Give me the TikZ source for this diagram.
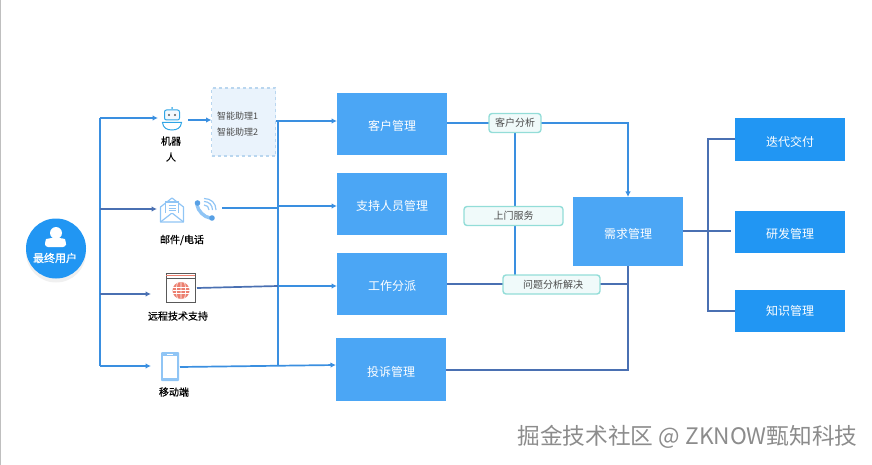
\documentclass[tikz,border=0pt]{standalone}
\usepackage{fontspec}
\setmainfont{Noto Sans CJK SC}
\usepackage{xcolor}
\usetikzlibrary{arrows.meta,calc,shadows}
\definecolor{BoxBlue}{HTML}{4BA6F5}
\definecolor{BoxDeep}{HTML}{2196F3}
\definecolor{Wire}{HTML}{3A8FE0}
\definecolor{WireDark}{HTML}{4A70B2}
\definecolor{Teal}{HTML}{93DDD8}
\definecolor{TealFill}{HTML}{F0FAFA}
\definecolor{IconBlue}{HTML}{90C5F5}
\definecolor{Helper}{HTML}{B9D6EF}
\definecolor{HelperFill}{HTML}{EAF3FC}
\definecolor{Globe}{HTML}{EC7F6F}
\begin{document}
\begin{tikzpicture}[x=1pt,y=-1pt,
  every node/.style={font=\fontsize{10}{12}\selectfont,inner sep=0pt,outer sep=0pt},
  block/.style={fill=BoxBlue,text=white,minimum width=110pt,text height=13.2pt,text depth=0pt,font=\fontsize{12}{14}\selectfont},
  deliver/.style={fill=BoxDeep,text=white,minimum width=110pt,text height=13.6pt,text depth=0pt,font=\fontsize{12}{14}\selectfont},
  tag/.style={draw=Teal,fill=TealFill,line width=1.4pt,rounded corners=3pt,text=black!70,font=\fontsize{10}{12}\selectfont,minimum height=19pt},
  icon/.style={minimum width=#1,minimum height=24pt},
  caption/.style={font=\fontsize{10}{16}\selectfont\addfontfeature{FakeBold=0.5},text=black},
  wire/.style={draw=Wire,line width=1.7pt},
  wiredark/.style={draw=WireDark,line width=1.7pt},
  tip/.style={-{Latex[length=5.5pt,width=5.5pt]}}]
\useasboundingbox (0,0) rectangle (872,465);
\draw[black!25,line width=1.5pt] (0.5,0) -- (0.5,465);

\node[circle,fill=BoxDeep,minimum size=60pt,drop shadow={opacity=0.12,shadow xshift=0pt,shadow yshift=-4pt}] (user) at (56,248.5) {};
\node[text=white,font=\fontsize{11}{13}\selectfont\addfontfeature{FakeBold=0.8}] (userText) at (55,258) {最终用户};

\node[icon=32pt] (robot) at (172,120) {};
\node[icon=30pt] (mail) at (172,210) {};
\node[icon=32pt] (phone) at (206,208) {};
\node[icon=32pt] (remote) at (181,288) {};
\node[icon=20pt] (mobile) at (170,367) {};

\node[caption,align=center] (robotText) at (171,149) {机器\\人};
\node[caption] (mailText) at (182,240) {邮件/电话};
\node[caption] (remoteText) at (178,316) {远程技术支持};
\node[caption] (mobileText) at (174,392) {移动端};

\node[draw=Helper,fill=HelperFill,dashed,line width=1.3pt,minimum width=64pt,minimum height=68pt] (helper) at (243.5,122) {};
\node[text=black!70,font=\fontsize{9}{11}\selectfont] (helperA) at (237.5,116) {智能助理1};
\node[text=black!70,font=\fontsize{9}{11}\selectfont] (helperB) at (237.5,132) {智能助理2};

\node[block,minimum height=62pt] (customer) at (392,124) {客户管理};
\node[block,minimum height=62pt] (support) at (392,204) {支持人员管理};
\node[block,minimum height=62pt] (dispatch) at (392,284) {工作分派};
\node[block,minimum height=63pt] (complaint) at (391,369.5) {投诉管理};
\node[block,minimum height=69pt] (demand) at (628,231.5) {需求管理};

\node[deliver,minimum height=43pt] (iterate) at (790,139.5) {迭代交付};
\node[deliver,minimum height=42pt] (develop) at (790,232) {研发管理};
\node[deliver,minimum height=42pt,text height=9pt] (knowledge) at (790,311) {知识管理};

\coordinate (trunkTop) at (100,118);
\coordinate (trunkMail) at (100,209);
\coordinate (trunkRemote) at (100,294);
\coordinate (trunkBottom) at (100,366);
\coordinate (robotIn) at (158,118);
\coordinate (mailIn) at (157,209);
\coordinate (remoteIn) at (151,294);
\coordinate (mobileIn) at (151,366);
\coordinate (busTop) at (278,121);
\coordinate (busBottom) at (278,365);
\coordinate (busSupport) at (278,206);
\coordinate (busDispatch) at (278,286);
\coordinate (fork) at (708,231);
\coordinate (forkTop) at (708,139);
\coordinate (forkBottom) at (708,311);
\coordinate (drop) at (628,123);
\coordinate (joinLow) at (628,370);

\draw[wire] (trunkTop) -- (trunkBottom);
\foreach \u/\v in {trunkTop/robotIn,trunkBottom/mobileIn} \draw[wire,tip] (\u) -- (\v);
\foreach \u/\v in {trunkMail/mailIn,trunkRemote/remoteIn} \draw[wiredark,tip] (\u) -- (\v);

\draw[wire,tip] (robot.east) -- (helper.west |- robot.east);
\draw[wire] (busTop) -- (busBottom);
\draw[wire,tip] (helper.east |- busTop) -- (customer.west |- busTop);
\draw[wire] (phone.east) -- (busBottom |- phone.east);
\draw[wire,tip] (busSupport) -- (support.west |- busSupport);
\draw[wiredark] (remote.east) -- (busDispatch);
\draw[wire,tip] (busDispatch) -- (dispatch.west |- busDispatch);
\draw[wire,tip] (mobile.east) -- ([yshift=4.5pt]complaint.west);

% the labels sit on top of these lines
\draw[wire,tip] (customer.east |- drop) -- (drop) -- (demand.north);
\draw[wire] (515,123) -- (515,280);
\draw[wiredark] (dispatch.east) -- (628,284);
\draw[wiredark] (demand.south) -- (joinLow) -- (complaint.east |- joinLow);
\draw[wiredark] (demand.east |- fork) -- (fork);
\draw[wiredark] (iterate.west |- forkTop) -- (forkTop) -- (forkBottom) -- (knowledge.west);
\draw[wiredark] (fork) -- ([xshift=-4pt]develop.west |- fork);

\node[tag,minimum width=52pt] (analysis) at (515,123) {客户分析};
\node[tag,minimum width=99pt] (visit) at (513.5,216) {上门服务};
\node[tag,minimum width=97pt] (solve) at (551.5,284.5) {\hspace*{3pt}问题分析解决};

% icons
\fill[white] (user) ++(0,-15.5) circle (6);
\fill[white,rounded corners=3pt] (45,247) -- (45,242) .. controls (46,239) and (51,238) .. (56,238) .. controls (61,238) and (65,239) .. (66,242) -- (66,247) -- cycle;

\begin{scope}[shift={(robot)}]
  \draw[Wire!80!cyan,line width=1pt,fill=HelperFill!60,rounded corners=2pt] (-7.5,-10) rectangle (7.5,0);
  \fill[Wire!80!cyan] (0,-12) circle (1);
  \fill[black!65] (-3,-5) circle (1.2) (3,-5) circle (1.2);
  \draw[Wire!80!cyan,line width=1pt] (-9.5,2.5) -- (9.5,2.5) .. controls (9,8) and (5,10) .. (0,10) .. controls (-5,10) and (-9,8) .. (-9.5,2.5) -- cycle;
\end{scope}

\begin{scope}[shift={(mail)}]
  \draw[IconBlue,line width=1.2pt,line join=round] (-11.5,-3) -- (0,-12) -- (11.5,-3) -- (11.5,12) -- (-11.5,12) -- cycle;
  \draw[IconBlue,line width=1.2pt] (-11.5,12) -- (0,3) -- (11.5,12);
  \draw[IconBlue,line width=1.2pt,fill=white] (-6.5,3) -- (-6.5,-8) -- (6.5,-8) -- (6.5,3);
  \draw[IconBlue,line width=1pt] (-3.5,-4.5) -- (3.5,-4.5) (-3.5,-2) -- (3.5,-2) (-3.5,0.5) -- (3.5,0.5);
\end{scope}

\begin{scope}[shift={(phone)}]
  \draw[IconBlue,line width=3.4pt,line cap=round] (-9,-3) .. controls (-8,3) and (-2,9) .. (4,10);
  \fill[Wire!85] (-8.5,-5) circle (2.8) (6,10) circle (2.8);
  \draw[IconBlue,line width=1.2pt] (-2,-3) .. controls (1,-3) and (3,-1) .. (3,2);
  \draw[IconBlue,line width=1.2pt] (-2,-6.5) .. controls (3,-6.5) and (6.5,-3) .. (6.5,2);
  \draw[IconBlue,line width=1.2pt] (-2,-9.5) .. controls (5,-9.5) and (10,-5) .. (10,2);
\end{scope}

\begin{scope}[shift={(remote)}]
  \draw[black!65,line width=0.9pt,fill=white] (-15,-15) rectangle (14,14);
  \draw[black!65,line width=0.8pt] (-15,-10) -- (14,-10);
  \draw[Globe,line width=0.5pt] (-15,-12.5) -- (14,-12.5);
  \fill[Globe] (0,2.5) circle (8.5);
  \draw[white,line width=0.6pt] (-8,-0.5) -- (8,-0.5) (-8.5,2.5) -- (8.5,2.5) (-8,5.5) -- (8,5.5);
  \draw[white,line width=0.6pt] (0,-6) -- (0,11) (-3.5,-5.5) .. controls (-5,-1) and (-5,6) .. (-3.5,10.5) (3.5,-5.5) .. controls (5,-1) and (5,6) .. (3.5,10.5);
\end{scope}

\begin{scope}[shift={(mobile)}]
  \fill[IconBlue,rounded corners=1pt] (-9,-15) rectangle (9,14);
  \fill[white] (-7,-11) rectangle (7,11);
  \fill[white] (-3,-13.5) rectangle (3,-12.5);
\end{scope}

\node[text=black!45,font=\fontsize{22.7}{26}\selectfont] (mark) at (687.5,437) {掘金技术社区 @ ZKNOW甄知科技};
\end{tikzpicture}
\end{document}
